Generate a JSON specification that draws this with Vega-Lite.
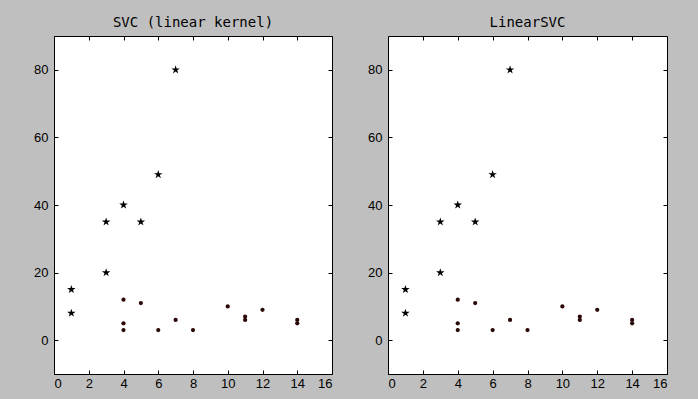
{
  "$schema": "https://vega.github.io/schema/vega-lite/v6.json",
  "background": "#bfbfbf",
  "padding": {"left": 33, "top": 15, "right": 30, "bottom": 8},
  "datasets": {
    "pts": [
      {"x": 1, "y": 15, "cls": "star"},
      {"x": 1, "y": 8, "cls": "star"},
      {"x": 3, "y": 35, "cls": "star"},
      {"x": 3, "y": 20, "cls": "star"},
      {"x": 4, "y": 40, "cls": "star"},
      {"x": 5, "y": 35, "cls": "star"},
      {"x": 6, "y": 49, "cls": "star"},
      {"x": 7, "y": 80, "cls": "star"},
      {"x": 4, "y": 12, "cls": "circle"},
      {"x": 4, "y": 5, "cls": "circle"},
      {"x": 4, "y": 3, "cls": "circle"},
      {"x": 5, "y": 11, "cls": "circle"},
      {"x": 6, "y": 3, "cls": "circle"},
      {"x": 7, "y": 6, "cls": "circle"},
      {"x": 8, "y": 3, "cls": "circle"},
      {"x": 10, "y": 10, "cls": "circle"},
      {"x": 11, "y": 7, "cls": "circle"},
      {"x": 11, "y": 6, "cls": "circle"},
      {"x": 12, "y": 9, "cls": "circle"},
      {"x": 14, "y": 6, "cls": "circle"},
      {"x": 14, "y": 5, "cls": "circle"}
    ]
  },
  "config": {
    "view": {"stroke": "#000000", "strokeWidth": 1, "fill": "#ffffff"},
    "axis": {
      "grid": false,
      "domain": false,
      "tickColor": "#000000",
      "tickSize": -4,
      "tickWidth": 1,
      "labelFont": "Liberation Sans",
      "labelFontSize": 13,
      "labelColor": "#000000",
      "labelPadding": 10,
      "title": null
    },
    "axisX": {"labelPadding": 7},
    "title": {
      "font": "DejaVu Sans Mono",
      "fontSize": 14,
      "fontWeight": "normal",
      "color": "#000000",
      "offset": 6
    }
  },
  "bounds": "flush",
  "spacing": 56,
  "hconcat": [
    {
      "title": "SVC (linear kernel)",
      "width": 278,
      "height": 338,
      "data": {"name": "pts"},
      "layer": [
        {
          "mark": {"type": "point", "filled": true, "opacity": 1},
          "encoding": {
            "x": {"field": "x", "type": "quantitative", "scale": {"domain": [0, 16], "nice": false, "zero": false}, "axis": {"orient": "bottom", "values": [0, 2, 4, 6, 8, 10, 12, 14, 16]}},
            "y": {"field": "y", "type": "quantitative", "scale": {"domain": [-10, 90], "nice": false, "zero": false}, "axis": {"orient": "left", "values": [0, 20, 40, 60, 80]}},
            "shape": {"field": "cls", "type": "nominal", "scale": {"domain": ["star", "circle"], "range": ["M0,-1L0.2245,-0.309L0.951,-0.309L0.363,0.118L0.588,0.809L0,0.382L-0.588,0.809L-0.363,0.118L-0.951,-0.309L-0.2245,-0.309Z", "circle"]}, "legend": null},
            "color": {"field": "cls", "type": "nominal", "scale": {"domain": ["star", "circle"], "range": ["#000000", "#2a0808"]}, "legend": null},
            "size": {"field": "cls", "type": "nominal", "scale": {"domain": ["star", "circle"], "range": [80, 18]}, "legend": null}
          }
        },
        {
          "mark": {"type": "point", "opacity": 0},
          "encoding": {
            "x": {"field": "x", "type": "quantitative", "axis": {"orient": "top", "labels": false, "values": [0, 2, 4, 6, 8, 10, 12, 14, 16]}},
            "y": {"field": "y", "type": "quantitative", "axis": {"orient": "right", "labels": false, "values": [0, 20, 40, 60, 80]}}
          }
        }
      ],
      "resolve": {"axis": {"x": "independent", "y": "independent"}}
    },
    {
      "title": "LinearSVC",
      "width": 279,
      "height": 338,
      "data": {"name": "pts"},
      "layer": [
        {
          "mark": {"type": "point", "filled": true, "opacity": 1},
          "encoding": {
            "x": {"field": "x", "type": "quantitative", "scale": {"domain": [0, 16], "nice": false, "zero": false}, "axis": {"orient": "bottom", "values": [0, 2, 4, 6, 8, 10, 12, 14, 16]}},
            "y": {"field": "y", "type": "quantitative", "scale": {"domain": [-10, 90], "nice": false, "zero": false}, "axis": {"orient": "left", "values": [0, 20, 40, 60, 80]}},
            "shape": {"field": "cls", "type": "nominal", "scale": {"domain": ["star", "circle"], "range": ["M0,-1L0.2245,-0.309L0.951,-0.309L0.363,0.118L0.588,0.809L0,0.382L-0.588,0.809L-0.363,0.118L-0.951,-0.309L-0.2245,-0.309Z", "circle"]}, "legend": null},
            "color": {"field": "cls", "type": "nominal", "scale": {"domain": ["star", "circle"], "range": ["#000000", "#2a0808"]}, "legend": null},
            "size": {"field": "cls", "type": "nominal", "scale": {"domain": ["star", "circle"], "range": [80, 18]}, "legend": null}
          }
        },
        {
          "mark": {"type": "point", "opacity": 0},
          "encoding": {
            "x": {"field": "x", "type": "quantitative", "axis": {"orient": "top", "labels": false, "values": [0, 2, 4, 6, 8, 10, 12, 14, 16]}},
            "y": {"field": "y", "type": "quantitative", "axis": {"orient": "right", "labels": false, "values": [0, 20, 40, 60, 80]}}
          }
        }
      ],
      "resolve": {"axis": {"x": "independent", "y": "independent"}}
    }
  ]
}
